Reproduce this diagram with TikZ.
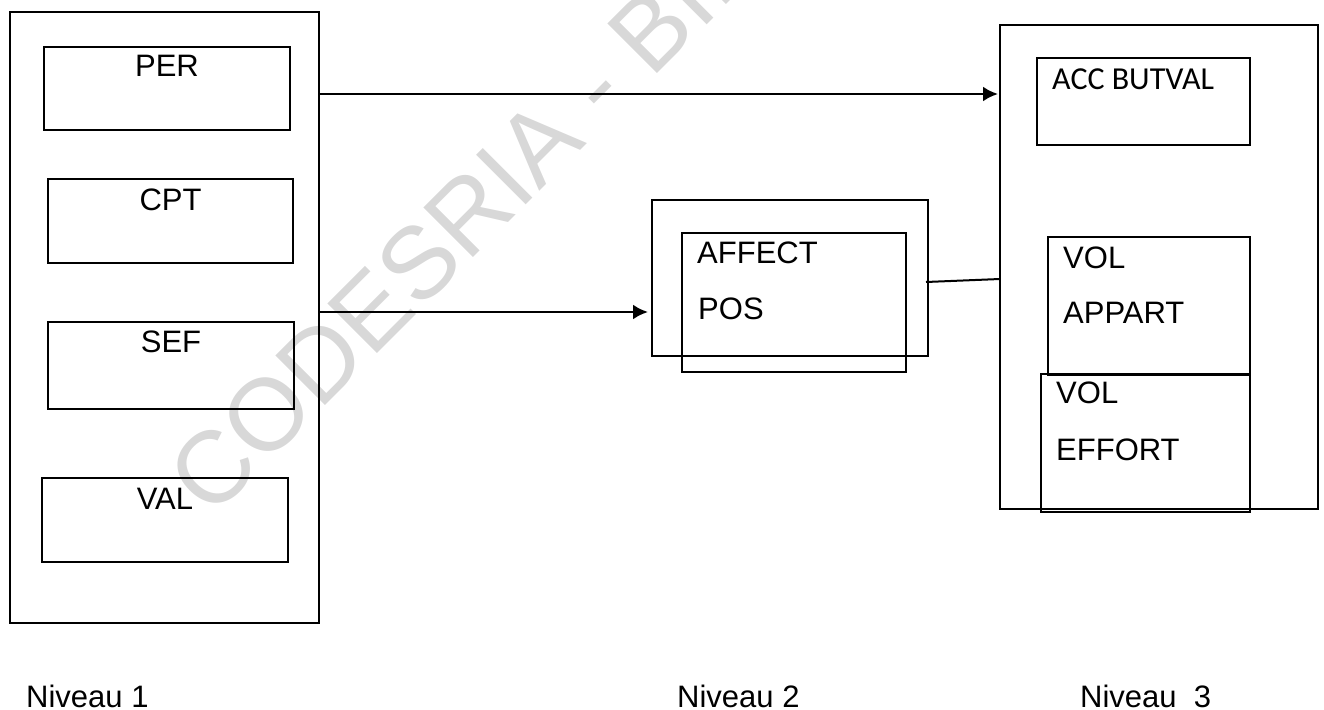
\documentclass[tikz,border=0pt]{standalone}
\usepackage{fontspec}
\setmainfont{Liberation Sans}
\newfontfamily\calib{Carlito}
\usetikzlibrary{fit,arrows.meta}
\definecolor{wmark}{HTML}{D8D8D8}
\begin{document}
\begin{tikzpicture}[x=1pt,y=-1pt,
  box/.style={draw=black, line width=2.7pt, inner sep=0pt, outer sep=0pt},
  lbl/.style={inner sep=0pt, anchor=base, font=\fontsize{31}{37}\selectfont},
  lbll/.style={inner sep=0pt, anchor=base west, font=\fontsize{31}{37}\selectfont},
  arr/.style={line width=2.6pt, -{Latex[length=15pt,width=15pt]}},
  link/.style={line width=2pt}]
\useasboundingbox (0,0) rectangle (1324,709);
% watermark
\begin{scope}
\clip (0,0) rectangle (1324,709);
\node[wmark, inner sep=0pt, anchor=base west, rotate=45, font=\fontsize{102}{102}\selectfont] (wm) at (211,520) {CODESRIA - BIBLIOTHEQUE};
\end{scope}
% Niveau 1
\node[box, fit={(10,12) (319,623)}] (lvl1) {};
\node[box, fit={(44,47) (290,130)}] (per) {};
\node[box, fit={(48,179) (293,263)}] (cpt) {};
\node[box, fit={(48,322) (294,409)}] (sef) {};
\node[box, fit={(42,478) (288,562)}] (val) {};
\node[lbl] (tper) at (167,77) {PER};
\node[lbl] (tcpt) at (170.5,210) {CPT};
\node[lbl] (tsef) at (171,352) {SEF};
\node[lbl] (tval) at (165,509) {VAL};
% Niveau 2
\node[box, fit={(652,200) (928,356)}] (lvl2) {};
\node[box, fit={(682,233) (906,372)}] (aff) {};
\node[lbll] (taff) at (697,263) {AFFECT};
\node[lbll] (tpos) at (698,319) {POS};
% Niveau 3
\node[box, fit={(1000,25) (1318,509)}] (lvl3) {};
\node[box, fit={(1037,58) (1250,145)}] (acc) {};
\node[box, fit={(1048,237) (1250,375)}] (app) {};
\node[box, fit={(1041,374) (1250,512)}] (eff) {};
\node[inner sep=0pt, anchor=base west, font=\calib\fontsize{32}{38}\selectfont] (tacc) at (1052,89) {ACC BUTVAL};
\node[lbll] (tvol1) at (1063,268) {VOL};
\node[lbll] (tappart) at (1063,323) {APPART};
\node[lbll] (tvol2) at (1056,403) {VOL};
\node[lbll] (teffort) at (1056,460) {EFFORT};
% connectors
\draw[arr, shorten >=2pt] (lvl1.east |- 0,94) -- (lvl3.west |- 0,94);
\draw[arr, shorten >=4pt] (lvl1.east |- 0,312) -- (lvl2.west |- 0,312);
\draw[link] (lvl2.east |- 0,282) ++(-2,0) -- (lvl3.west |- 0,279);
% level labels
\node[lbll] (n1) at (26,707) {Niveau 1};
\node[lbll] (n2) at (677,707) {Niveau 2};
\node[lbll] (n3) at (1080,707) {Niveau\ \ 3};
\end{tikzpicture}
\end{document}
